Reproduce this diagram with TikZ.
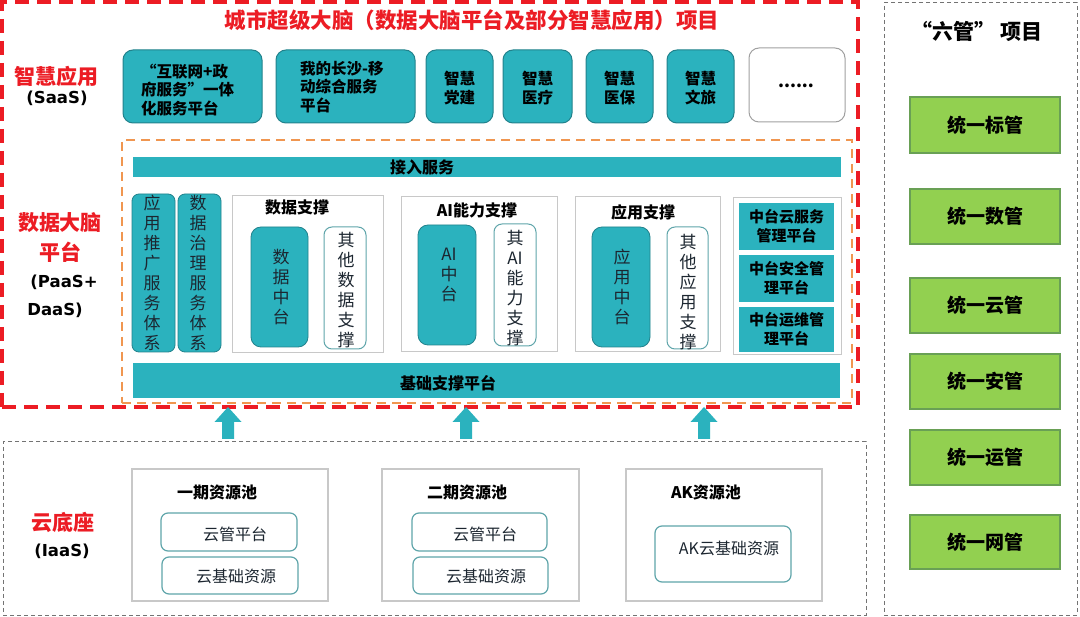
\documentclass[tikz,border=0pt]{standalone}
\usepackage{fontspec}
\setmainfont{Noto Sans CJK SC}
\newfontfamily\latfont{DejaVu Sans}
\usetikzlibrary{fit,calc}
\definecolor{tealF}{RGB}{43,178,190}
\definecolor{tealD}{RGB}{34,130,140}
\definecolor{tealL}{RGB}{95,165,170}
\definecolor{redD}{RGB}{236,28,36}
\definecolor{orangeD}{RGB}{240,150,80}
\definecolor{grayD}{RGB}{115,115,115}
\definecolor{grayL}{RGB}{200,200,200}
\definecolor{greenF}{RGB}{146,208,80}
\definecolor{greenD}{RGB}{105,160,85}
\definecolor{txtD}{RGB}{28,38,48}
\newcommand\mkbox[6]{\node[#1, fit={(#3,#4) (#5,#6)}] (#2) {};}
\tikzset{
  fitbase/.style={inner sep=0pt, outer sep=0pt},
  redframe/.style={fitbase, draw=redD, line width=3.5pt, dash pattern=on 14pt off 8pt},
  orangeframe/.style={fitbase, draw=orangeD, line width=2pt, dash pattern=on 9pt off 6pt},
  grayframe/.style={fitbase, draw=grayD, line width=1pt, dash pattern=on 4pt off 3pt},
  appbox/.style={fitbase, fill=tealF, draw=tealD, line width=1pt, rounded corners=10pt},
  morebox/.style={fitbase, fill=white, draw=grayL!80!black, line width=1pt, rounded corners=10pt},
  barbox/.style={fitbase, fill=tealF},
  vbox/.style={fitbase, fill=tealF, draw=tealD, line width=0.8pt, rounded corners=7pt},
  midbox/.style={fitbase, fill=tealF, draw=tealD, line width=0.8pt, rounded corners=10pt},
  otherbox/.style={fitbase, fill=white, draw=tealL, line width=1pt, rounded corners=8pt},
  supbox/.style={fitbase, fill=white, draw=grayL, line width=1pt},
  mgbox/.style={fitbase, fill=tealF},
  greenbox/.style={fitbase, fill=greenF, draw=greenD, line width=1.2pt},
  poolbox/.style={fitbase, fill=white, draw=grayL, line width=1.2pt},
  resbox/.style={fitbase, fill=white, draw=tealL, line width=1.2pt, rounded corners=7pt},
  apptext/.style={inner sep=0pt, align=center, font=\fontsize{15.5}{18.5}\selectfont\bfseries, text=black},
  vtext/.style={inner sep=0pt, align=center, font=\fontsize{17}{20}\selectfont, text=txtD},
  bartext/.style={inner sep=0pt, font=\fontsize{16}{19}\selectfont\bfseries, text=black},
  redlabel/.style={inner sep=0pt, font=\fontsize{21}{24}\selectfont\bfseries, text=redD},
  latlabel/.style={inner sep=0pt, font=\fontsize{16.5}{20}\selectfont\latfont\bfseries, text=black},
  greentext/.style={inner sep=0pt, font=\fontsize{19}{22}\selectfont\bfseries, text=black},
  restext/.style={inner sep=0pt, font=\fontsize{16}{19}\selectfont, text=txtD},
  arrowfill/.style={fill=tealF},
}
\begin{document}
\begin{tikzpicture}[x=1pt,y=-1pt]
\useasboundingbox (0,0) rectangle (1080,617);
\fill[white] (0,0) rectangle (1080,617);

% ---------- frames ----------
\mkbox{grayframe}{six}{884}{3}{1077}{615}
\mkbox{grayframe}{iaas}{3}{442}{866}{615}
\mkbox{orangeframe}{paas}{122}{140}{852}{403}
\mkbox{redframe}{brain}{2}{2}{858}{407}

% ---------- title ----------
\node[inner sep=0pt, font=\fontsize{21.5}{25}\selectfont\bfseries, text=redD] (title) at (472,20) {城市超级大脑（数据大脑平台及部分智慧应用）项目};

% ---------- left labels ----------
\node[redlabel] (lsaas1) at (57,76) {智慧应用};
\node[latlabel] (lsaas2) at (57,98) {(SaaS)};
\node[redlabel] (lpaas1) at (60,223) {数据大脑};
\node[redlabel] (lpaas2) at (60,252) {平台};
\node[latlabel] (lpaas3) at (64,282) {(PaaS+};
\node[latlabel] (lpaas4) at (55,310) {DaaS)};
\node[redlabel] (liaas1) at (63,522) {云底座};
\node[latlabel] (liaas2) at (62,551) {(IaaS)};

% ---------- SaaS ----------
\mkbox{appbox}{s1}{123}{50}{262}{123}
\node[apptext, anchor=west, align=left] (s1t) at (141,90) {“互联网+政\\府服务”一体\\化服务平台};
\mkbox{appbox}{s2}{276}{50}{415}{123}
\node[apptext, anchor=west, align=left] (s2t) at (300,87) {我的长沙-移\\动综合服务\\平台};
\mkbox{appbox}{s3}{426}{50}{493}{123}
\node[apptext] (s3t) at (459.5,88) {智慧\\党建};
\mkbox{appbox}{s4}{503}{50}{572}{123}
\node[apptext] (s4t) at (537.5,88) {智慧\\医疗};
\mkbox{appbox}{s5}{586}{50}{653}{123}
\node[apptext] (s5t) at (619.5,88) {智慧\\医保};
\mkbox{appbox}{s6}{667}{50}{734}{123}
\node[apptext] (s6t) at (700.5,88) {智慧\\文旅};
\mkbox{morebox}{s7}{749}{48}{845}{122}
\node[apptext, font=\fontsize{17}{20}\selectfont\bfseries] (s7t) at (796,86) {......};

% ---------- PaaS ----------
\mkbox{barbox}{access}{133}{157}{841}{177}
\node[bartext] (accesst) at (422,167) {接入服务};

\mkbox{vbox}{v1}{132}{194}{175}{352}
\node[vtext] (v1t) at (152,273) {应\\用\\推\\广\\服\\务\\体\\系};
\mkbox{vbox}{v2}{178}{194}{221}{352}
\node[vtext] (v2t) at (198,273) {数\\据\\治\\理\\服\\务\\体\\系};

\mkbox{supbox}{ds}{232}{196}{383}{353}
\node[bartext] (dst) at (297,207) {数据支撑};
\mkbox{midbox}{dmid}{251}{227}{308}{347}
\node[vtext] (dmidt) at (281,287) {数\\据\\中\\台};
\mkbox{otherbox}{doth}{324}{227}{366}{349}
\node[vtext] (dotht) at (346,290) {其\\他\\数\\据\\支\\撑};

\mkbox{supbox}{ai}{401}{197}{557}{352}
\node[bartext] (ait) at (477,210) {AI能力支撑};
\mkbox{midbox}{aimid}{418}{225}{476}{345}
\node[vtext] (aimidt) at (449,275) {AI\\中\\台};
\mkbox{otherbox}{aioth}{494}{224}{536}{346}
\node[vtext] (aiotht) at (515,288) {其\\AI\\能\\力\\支\\撑};

\mkbox{supbox}{ap}{575}{197}{720}{352}
\node[bartext] (apt) at (643,212) {应用支撑};
\mkbox{midbox}{apmid}{592}{227}{650}{347}
\node[vtext] (apmidt) at (622,287) {应\\用\\中\\台};
\mkbox{otherbox}{apoth}{667}{227}{708}{349}
\node[vtext] (apotht) at (688,292) {其\\他\\应\\用\\支\\撑};

\mkbox{supbox}{mg}{733}{198}{841}{355}
\mkbox{mgbox}{mg1}{739}{203}{834}{250}
\node[apptext, font=\fontsize{15}{19}\selectfont\bfseries] (mg1t) at (786.5,226.5) {中台云服务\\管理平台};
\mkbox{mgbox}{mg2}{739}{255}{834}{302}
\node[apptext, font=\fontsize{15}{19}\selectfont\bfseries] (mg2t) at (786.5,278.5) {中台安全管\\理平台};
\mkbox{mgbox}{mg3}{739}{307}{834}{352}
\node[apptext, font=\fontsize{15}{19}\selectfont\bfseries] (mg3t) at (786.5,329.5) {中台运维管\\理平台};

\mkbox{barbox}{base}{133}{363}{840}{398}
\node[bartext] (baset) at (448,383) {基础支撑平台};

% ---------- IaaS ----------
\mkbox{poolbox}{p1}{132}{469}{328}{601}
\node[bartext] (p1t) at (217,492) {一期资源池};
\mkbox{resbox}{p1a}{161}{513}{297}{551}
\node[restext] (p1at) at (235,534) {云管平台};
\mkbox{resbox}{p1b}{162}{557}{298}{594}
\node[restext] (p1bt) at (236,576) {云基础资源};

\mkbox{poolbox}{p2}{382}{469}{579}{601}
\node[bartext] (p2t) at (467,492) {二期资源池};
\mkbox{resbox}{p2a}{412}{513}{547}{551}
\node[restext] (p2at) at (485,534) {云管平台};
\mkbox{resbox}{p2b}{413}{557}{548}{594}
\node[restext] (p2bt) at (486,576) {云基础资源};

\mkbox{poolbox}{p3}{626}{469}{822}{601}
\node[bartext] (p3t) at (706,492) {AK资源池};
\mkbox{resbox}{p3a}{655}{526}{791}{582}
\node[restext] (p3at) at (729,548) {AK云基础资源};

% ---------- arrows ----------
\foreach \n/\ax in {a1/228, a2/466, a3/704}{
  \coordinate (\n b) at (\ax,439);
  \coordinate (\n t) at (\ax,407);
  \fill[arrowfill] ($(\n b)+(-6,0)$) -- ($(\n t)+(-6,15)$) -- ($(\n t)+(-13.5,15)$) -- (\n t)
     -- ($(\n t)+(13.5,15)$) -- ($(\n t)+(6,15)$) -- ($(\n b)+(6,0)$) -- cycle;
}

% ---------- six management ----------
\node[inner sep=0pt, font=\fontsize{21}{25}\selectfont\bfseries, text=black] (sixt) at (977,31) {“六管” 项目};
\mkbox{greenbox}{g1}{910}{97}{1060}{153}
\node[greentext] (g1t) at (985,125) {统一标管};
\mkbox{greenbox}{g2}{910}{189}{1060}{244}
\node[greentext] (g2t) at (985,216.5) {统一数管};
\mkbox{greenbox}{g3}{910}{278}{1060}{333}
\node[greentext] (g3t) at (985,305.5) {统一云管};
\mkbox{greenbox}{g4}{910}{354}{1060}{409}
\node[greentext] (g4t) at (985,381.5) {统一安管};
\mkbox{greenbox}{g5}{910}{430}{1060}{485}
\node[greentext] (g5t) at (985,457.5) {统一运管};
\mkbox{greenbox}{g6}{910}{515}{1060}{569}
\node[greentext] (g6t) at (985,542) {统一网管};
\end{tikzpicture}
\end{document}
